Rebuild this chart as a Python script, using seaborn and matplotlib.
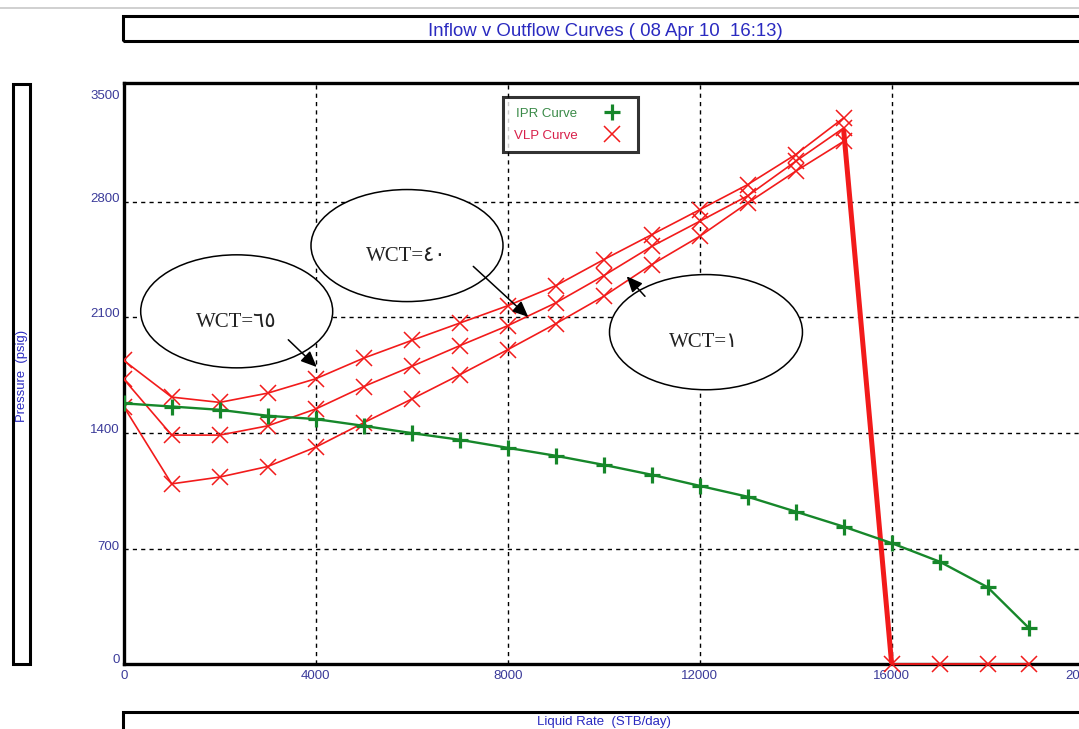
import numpy as np
import pandas as pd
import matplotlib
matplotlib.use("Agg")
import matplotlib.pyplot as plt
from matplotlib.patches import Ellipse, Rectangle
from matplotlib.lines import Line2D
from matplotlib.transforms import ScaledTranslation
import seaborn as sns

# ---------------- data ----------------
ipr_rate = [0, 1000, 2000, 3000, 4000, 5000, 6000, 7000, 8000, 9000, 10000,
            11000, 12000, 13000, 14000, 15000, 16000, 17000, 18000, 18850]
ipr_pres = [1579, 1560, 1540, 1504, 1484, 1443, 1399, 1359, 1310, 1262, 1207,
            1147, 1080, 1014, 924, 833, 733, 621, 466, 222]

vlp_rate = [0, 1000, 2000, 3000, 4000, 5000, 6000, 7000, 8000, 9000, 10000,
            11000, 12000, 13000, 14000, 15000]
vlp_wct65 = [1839, 1617, 1585, 1641, 1728, 1853, 1960, 2065, 2170, 2291, 2449,
             2600, 2751, 2903, 3085, 3307]
vlp_wct40 = [1726, 1387, 1387, 1443, 1545, 1681, 1803, 1928, 2049, 2187, 2352,
             2529, 2681, 2835, 3044, 3246]
vlp_wct1 = [1560, 1092, 1133, 1197, 1314, 1462, 1605, 1752, 1904, 2061, 2227,
            2419, 2590, 2792, 2984, 3165]

drop_rate = [15000, 16000]
drop_pres = [3230, 0]
zero_rate = [16000, 17000, 18000, 18850]
zero_pres = [0, 0, 0, 0]

x_ticks = [0, 4000, 8000, 12000, 16000, 20000]
x_tick_labels = ["0", "4000", "8000", "12000", "16000", "20000"]
y_ticks = [0, 700, 1400, 2100, 2800, 3500]
y_tick_labels = ["0", "700", "1400", "2100", "2800", "3500"]

title_text = "Inflow v Outflow Curves ( 08 Apr 10  16:13)"
x_label = "Liquid Rate  (STB/day)"
y_label = "Pressure  (psig)"
legend_labels = ["IPR Curve", "VLP Curve"]
wct_labels = ["WCT=\u0666\u0665", "WCT=\u0664\u0660", "WCT=\u0661"]

# ---------------- style ----------------
sns.set_theme(style="white")
plt.rcParams["font.family"] = ["Liberation Sans", "DejaVu Sans"]

W, H = 1079, 729
fig = plt.figure(figsize=(W / 100, H / 100), dpi=100)
fig.patch.set_facecolor("white")

def fx(px):
    return px / W

def fy(py):
    return 1 - py / H

ax_left, ax_right, ax_top, ax_bot = 123.7, 1083.7, 83.3, 664.3
ax = fig.add_axes([fx(ax_left), fy(ax_bot), (ax_right - ax_left) / W, (ax_bot - ax_top) / H])
ax.set_facecolor("white")

RED = "#f21b1b"
GREEN = "#16872a"
BLUE = "#2a2ac0"
TICKBLUE = "#3b3b9a"

# grid
ax.set_xlim(0, 20000)
ax.set_ylim(0, 3516)
for xv in [4000, 8000, 12000, 16000]:
    ax.axvline(xv, color="black", lw=1.0, ls=(0, (3, 3)), zorder=0)
for yv in [700, 1400, 2100, 2800]:
    ax.axhline(yv, color="black", lw=1.0, ls=(0, (3, 3)), zorder=0)

# VLP curves
for ys in [vlp_wct65, vlp_wct40, vlp_wct1]:
    sns.lineplot(x=vlp_rate, y=ys, ax=ax, color=RED, lw=1.2, marker="x",
                 markersize=11, markeredgewidth=1.1, markeredgecolor=RED,
                 sort=False, estimator=None, zorder=3)
sns.lineplot(x=drop_rate, y=drop_pres, ax=ax, color=RED, lw=3.6,
             sort=False, estimator=None, zorder=3)
sns.lineplot(x=zero_rate, y=zero_pres, ax=ax, color=RED, lw=1.3, marker="x",
             markersize=11, markeredgewidth=1.1, markeredgecolor=RED,
             sort=False, estimator=None, zorder=3, clip_on=False)

# IPR curve
sns.lineplot(x=ipr_rate, y=ipr_pres, ax=ax, color=GREEN, lw=1.7, marker="+",
             markersize=11, markeredgewidth=2.3, markeredgecolor=GREEN,
             sort=False, estimator=None, zorder=4)

# spines / ticks
for side in ["left", "top", "bottom"]:
    ax.spines[side].set_visible(True)
    ax.spines[side].set_color("black")
    ax.spines[side].set_linewidth(2.4)
ax.spines["right"].set_visible(False)
ax.set_xticks(x_ticks)
ax.set_xticklabels(x_tick_labels)
ax.set_yticks(y_ticks)
ax.set_yticklabels(y_tick_labels)
ax.tick_params(axis="both", length=0, labelsize=9.5, labelcolor=TICKBLUE)
ax.tick_params(axis="x", pad=4)
ax.tick_params(axis="y", pad=3)
y_label_shift_px = [6, 3, 4, 5, 4.5, -9]
for lab, dy in zip(ax.get_yticklabels(), y_label_shift_px):
    lab.set_transform(lab.get_transform() + ScaledTranslation(0, dy / 100, fig.dpi_scale_trans))
ax.set_xlabel("")
ax.set_ylabel("")

# legend
handles = [Line2D([], [], color=GREEN, marker="+", ls="none", markersize=11, markeredgewidth=2.3),
           Line2D([], [], color=RED, marker="x", ls="none", markersize=11, markeredgewidth=1.1)]
leg = ax.legend(handles, legend_labels, loc="upper left",
                bbox_to_anchor=(fx(503), fy(97)), bbox_transform=fig.transFigure,
                borderaxespad=0, markerfirst=False, frameon=True, fancybox=False,
                fontsize=9.5, handlelength=2.3, handletextpad=1.5, labelspacing=0.75,
                borderpad=0.8)
leg.get_frame().set_edgecolor("black")
leg.get_frame().set_linewidth(2.2)
leg.get_texts()[0].set_color("#3a8a48")
leg.get_texts()[1].set_color("#d8204a")

# ellipse annotations (data coordinates)
ell_specs = [(2354, 2136, 4000, 684), (5902, 2534, 4000, 678), (12131, 2010, 4020, 697)]
txt_pos = [(2340, 2067), (5881, 2468), (12090, 1947)]
arrows = [((3429, 1964), (4021, 1799)), ((7283, 2408), (8429, 2102)), ((10860, 2227), (10479, 2348))]
for (cx, cy, w, h), (tx, ty), lab, (tail, head) in zip(ell_specs, txt_pos, wct_labels, arrows):
    ax.add_patch(Ellipse((cx, cy), w, h, facecolor="white", edgecolor="black", lw=1.1, zorder=5))
    ax.text(tx, ty, lab, ha="center", va="center", fontsize=15, color="#222222",
            family=["Liberation Serif", "DejaVu Sans"], zorder=6)
    ax.annotate("", xy=head, xytext=tail,
                arrowprops=dict(arrowstyle="-|>,head_length=0.8,head_width=0.35",
                                color="black", lw=1.1, shrinkA=0, shrinkB=0), zorder=6)

# boxes: title, y label, x label
fig.add_artist(Line2D([0, 1], [fy(8), fy(8)], transform=fig.transFigure, color="#c8c8c8", lw=1.2))
fig.add_artist(Rectangle((fx(123), fy(41)), fx(1000), (41 - 16) / H, transform=fig.transFigure,
                         facecolor="none", edgecolor="black", lw=2.2))
fig.text(fx(605), fy(31.5), title_text, ha="center", va="center", fontsize=13.4, color=BLUE)

fig.add_artist(Rectangle((fx(13), fy(664)), (30.5 - 13) / W, (664 - 84) / H, transform=fig.transFigure,
                         facecolor="none", edgecolor="black", lw=2.2))
fig.text(fx(22), fy(376), y_label, ha="center", va="center", rotation=90, fontsize=9.4, color=BLUE)

fig.add_artist(Rectangle((fx(123), fy(745)), fx(1000), (745 - 712) / H, transform=fig.transFigure,
                         facecolor="none", edgecolor="black", lw=2.2))
fig.text(fx(604), fy(722.5), x_label, ha="center", va="center", fontsize=9.5, color=BLUE)

fig.savefig("out.png", dpi=100, facecolor="white")
